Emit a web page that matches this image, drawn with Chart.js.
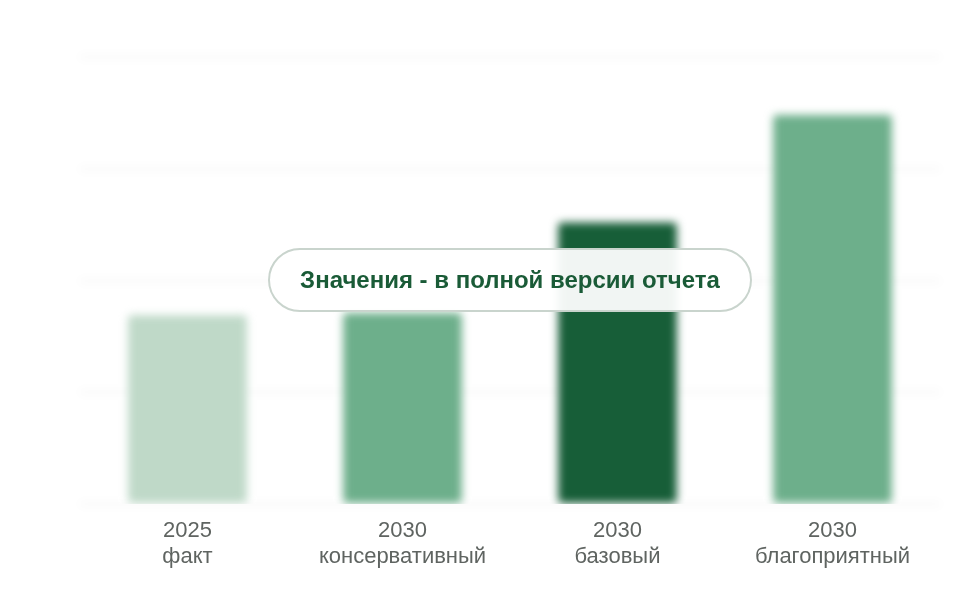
<!DOCTYPE html>
<html lang="ru">
<head>
<meta charset="utf-8">
<title>Сценарии 2030</title>
<script src="https://cdn.jsdelivr.net/npm/chart.js@4.4.1/dist/chart.umd.min.js"></script>
<style>
  html, body { margin: 0; padding: 0; background: #fff; }
  .wrap { position: relative; width: 960px; height: 600px; }
  .overlay {
    position: absolute;
    left: 268px; top: 248px;
    width: 484px; height: 64px;
    box-sizing: border-box;
    border: 2px solid #c9d4cd;
    border-radius: 32px;
    background: rgba(255, 255, 255, 0.94);
    display: flex; align-items: center; justify-content: center;
    font-family: "Liberation Sans", Arial, sans-serif;
    font-weight: bold; font-size: 24px;
    color: #1a5b37;
  }
</style>
</head>
<body>
<div class="wrap">
  <canvas id="chart" width="960" height="600"></canvas>
  <div class="overlay">Значения - в полной версии отчета</div>
</div>
<script>
// данные (значения скрыты в отчёте, оценены по высоте столбцов)
const categories = [
  ['2025', 'факт'],
  ['2030', 'консервативный'],
  ['2030', 'базовый'],
  ['2030', 'благоприятный'],
];
const values = [1.69, 1.71, 2.52, 3.48];
const barColors = ['#bfd9c8', '#6daf8b', '#175e38', '#6daf8b'];

// размытие сетки и столбцов, подписи остаются чёткими
const blurPlugin = {
  id: 'blur',
  beforeDraw(chart) {
    chart.ctx.filter = 'blur(4px)';
  },
  afterDatasetsDraw(chart) {
    chart.ctx.filter = 'none';
  },
};

new Chart(document.getElementById('chart'), {
  type: 'bar',
  data: {
    labels: categories,
    datasets: [{
      data: values,
      backgroundColor: barColors,
      borderRadius: 4,
      borderSkipped: false,
      categoryPercentage: 0.8,
      barPercentage: 0.69,
    }],
  },
  options: {
    responsive: false,
    animation: false,
    layout: { padding: { left: 80, right: 20, top: 57, bottom: 24 } },
    plugins: {
      legend: { display: false },
      tooltip: { enabled: false },
    },
    scales: {
      x: {
        grid: { display: false },
        border: { display: false },
        ticks: {
          z: 1,
          padding: 6,
          color: '#5f6461',
          font: { family: '"Liberation Sans", Arial, sans-serif', size: 22, lineHeight: 1.18 },
        },
      },
      y: {
        min: 0,
        max: 4,
        border: { display: false },
        grid: { color: 'rgba(0,0,0,0.06)', lineWidth: 2, drawTicks: false },
        ticks: { display: false, stepSize: 1 },
      },
    },
  },
  plugins: [blurPlugin],
});
</script>
</body>
</html>
